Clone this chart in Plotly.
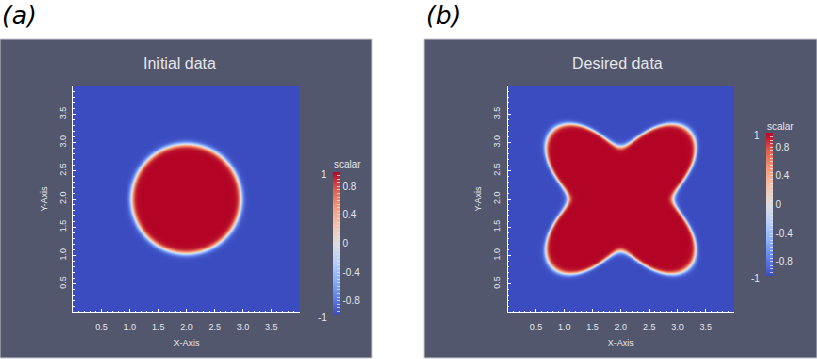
"""Two ParaView-style scalar fields side by side: initial circle vs desired four-petal shape."""

import numpy as np
import plotly.graph_objects as go

# Data ------------------------------------------------------------------------
PANEL_LABELS = ["(a)", "(b)"]
PANEL_TITLES = ["Initial data", "Desired data"]
AXIS_RANGE = [0.0, 4.0]
GRID_N = 241

# shape parameters (domain units)
CENTER = [2.0, 2.0]
CIRCLE_RADIUS = 0.97
STAR_MEAN_RADIUS = 1.32
STAR_AMPLITUDE = 0.39
INTERFACE_WIDTH = 0.05

AXIS_TICKS = [0.5, 1.0, 1.5, 2.0, 2.5, 3.0, 3.5]
CBAR_TICKVALS = [round(-1 + 0.05 * i, 2) for i in range(41)]
CBAR_LABELLED = [-0.8, -0.4, 0.0, 0.4, 0.8]

# Visual tokens ----------------------------------------------------------------
W, H = 817, 359
BG = "#52576e"
TXT = "#e6e6ea"
FONT = "Liberation Sans, Arial, sans-serif"

# ParaView "Cool to Warm"
COOLWARM = [
    [0.0, "rgb(59,76,192)"],
    [0.125, "rgb(98,130,234)"],
    [0.25, "rgb(141,176,254)"],
    [0.375, "rgb(184,208,249)"],
    [0.5, "rgb(221,221,221)"],
    [0.625, "rgb(245,196,173)"],
    [0.75, "rgb(244,154,123)"],
    [0.875, "rgb(222,96,77)"],
    [1.0, "rgb(180,4,38)"],
]


def px_x(p):
    return p / W


def px_y(p):
    return 1 - p / H


# fields
xs = np.linspace(AXIS_RANGE[0], AXIS_RANGE[1], GRID_N)
ys = np.linspace(AXIS_RANGE[0], AXIS_RANGE[1], GRID_N)
XX, YY = np.meshgrid(xs, ys)
rr = np.hypot(XX - CENTER[0], YY - CENTER[1])
th = np.arctan2(YY - CENTER[1], XX - CENTER[0])

field_a = np.tanh((CIRCLE_RADIUS - rr) / INTERFACE_WIDTH)
r_star = STAR_MEAN_RADIUS - STAR_AMPLITUDE * np.cos(4 * th)
field_b = np.tanh((r_star - rr) / INTERFACE_WIDTH)

# panel geometry in pixels
panels = [
    dict(bg=(0, 372), plot=(73.3, 299.5), title_x=179, cbar_x=333, cbar_y=(172, 315), label_x=0),
    dict(bg=(424, 817), plot=(507.7, 734), title_x=617, cbar_x=766, cbar_y=(133, 276), label_x=424),
]
PLOT_Y = (86, 312)

fig = go.Figure()

for i, (pn, z) in enumerate(zip(panels, [field_a, field_b])):
    sfx = "" if i == 0 else "2"
    cb_top, cb_bot = pn["cbar_y"]
    fig.add_trace(
        go.Heatmap(
            x=xs,
            y=ys,
            z=z,
            zmin=-1,
            zmax=1,
            colorscale=COOLWARM,
            xaxis="x" + sfx,
            yaxis="y" + sfx,
            hoverinfo="skip",
            colorbar=dict(
                x=px_x(pn["cbar_x"]),
                xanchor="left",
                y=px_y((cb_top + cb_bot) / 2),
                yanchor="middle",
                len=(cb_bot - cb_top) / H,
                lenmode="fraction",
                thickness=7,
                thicknessmode="pixels",
                outlinewidth=0,
                xpad=0,
                ypad=0,
                tickmode="array",
                tickvals=CBAR_TICKVALS,
                ticktext=[
                    (f"{v:g}" if v in CBAR_LABELLED else "") for v in CBAR_TICKVALS
                ],
                ticks="inside",
                ticklen=3,
                tickwidth=1,
                tickcolor="rgba(225,225,225,0.8)",
                tickfont=dict(family=FONT, size=10, color=TXT),
            ),
        )
    )

    x0, x1 = pn["plot"]
    axis_common = dict(
        range=AXIS_RANGE,
        showgrid=False,
        zeroline=False,
        showline=True,
        linecolor="white",
        linewidth=1,
        mirror=False,
        ticks="inside",
        ticklen=3,
        tickcolor="white",
        tickvals=AXIS_TICKS,
        ticktext=[f"{v:.1f}" for v in AXIS_TICKS],
        tickfont=dict(family=FONT, size=9, color=TXT),
        minor=dict(dtick=0.1, ticks="inside", ticklen=1.5, tickcolor="white"),
        fixedrange=True,
    )
    fig.update_layout(
        {
            "xaxis" + sfx: dict(
                axis_common,
                domain=[px_x(x0), px_x(x1)],
                anchor="y" + sfx,
                ticklabelstandoff=6,
                title=dict(
                    text="X-Axis",
                    font=dict(family=FONT, size=9, color=TXT),
                    standoff=8,
                ),
            ),
            "yaxis" + sfx: dict(
                axis_common,
                domain=[px_y(PLOT_Y[1]), px_y(PLOT_Y[0])],
                anchor="x" + sfx,
                tickangle=-90,
                ticklabelstandoff=3,
                title=dict(
                    text="Y-Axis",
                    font=dict(family=FONT, size=9, color=TXT),
                    standoff=8,
                ),
            ),
        }
    )

    # panel background
    bx0, bx1 = pn["bg"]
    fig.add_shape(
        type="rect",
        xref="paper",
        yref="paper",
        x0=px_x(bx0),
        x1=px_x(bx1),
        y0=px_y(358),
        y1=px_y(39),
        fillcolor=BG,
        line=dict(color="#c9cad0", width=1),
        layer="below",
    )

    # title
    fig.add_annotation(
        text=PANEL_TITLES[i],
        xref="paper",
        yref="paper",
        x=px_x(pn["title_x"]),
        y=px_y(64),
        showarrow=False,
        xanchor="center",
        yanchor="middle",
        font=dict(family=FONT, size=16, color=TXT),
    )
    # colour bar title
    fig.add_annotation(
        text="scalar",
        xref="paper",
        yref="paper",
        x=px_x(pn["cbar_x"] + 14),
        y=px_y(cb_top - 7),
        showarrow=False,
        xanchor="center",
        yanchor="middle",
        font=dict(family=FONT, size=10, color=TXT),
    )
    # panel letter
    fig.add_annotation(
        text=PANEL_LABELS[i],
        xref="paper",
        yref="paper",
        x=px_x(pn["label_x"]),
        y=px_y(15),
        showarrow=False,
        xanchor="left",
        yanchor="middle",
        font=dict(family="DejaVu Sans", size=25, color="black", style="italic"),
    )
    # colour range end labels
    for val, py in [("1", cb_top + 2), ("-1", cb_bot + 2)]:
        fig.add_annotation(
            text=val,
            xref="paper",
            yref="paper",
            x=px_x(pn["cbar_x"] - 4),
            y=px_y(py),
            showarrow=False,
            xanchor="right",
            yanchor="middle",
            font=dict(family=FONT, size=10, color=TXT),
        )

fig.update_layout(
    width=W,
    height=H,
    margin=dict(l=0, r=0, t=0, b=0, autoexpand=False),
    paper_bgcolor="white",
    plot_bgcolor=BG,
    showlegend=False,
)

fig.write_html(
    "out.html",
    config={"displayModeBar": False},
    post_script="document.body.style.margin='0';",
)
